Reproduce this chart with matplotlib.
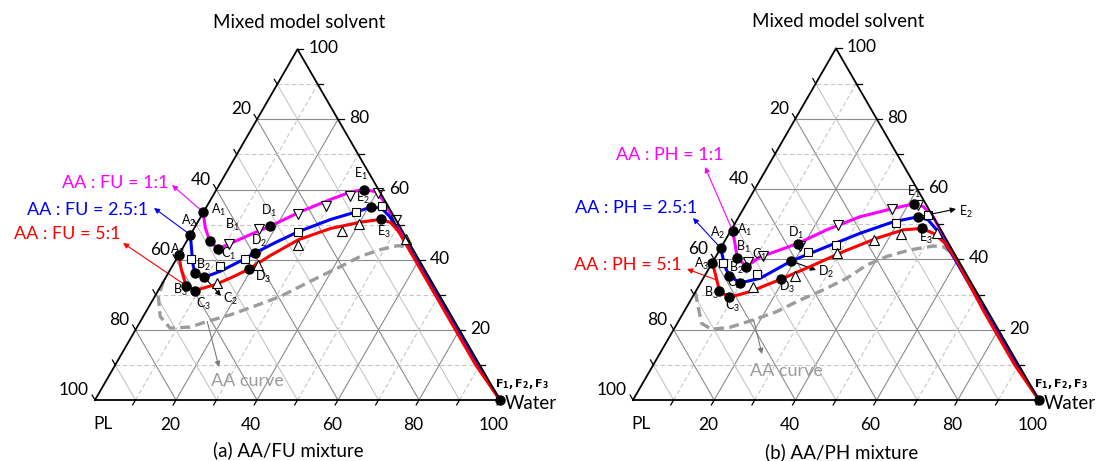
import numpy as np
import matplotlib.pyplot as plt

plt.rcParams['font.family'] = ['Lato', 'DejaVu Sans']
plt.rcParams['mathtext.default'] = 'regular'

# compositions: Water %, Mixed model solvent % (PL = the rest)
# ---------- (a) AA/FU mixture
fu_1_w = [0, 2.6, 5.7, 8.8, 11.1, 14.8, 18.4, 23.9, 29.6, 33.5, 36.3, 39.6, 42.6, 49.6, 64.6, 79.6, 94.6, 100]
fu_1_s = [53.5, 49.2, 45.3, 43.1, 44.6, 47.2, 49.5, 53.7, 57.2, 59.3, 60.0, 59.4, 57.0, 50.0, 35.0, 20.0, 5.0, 0]
fu_2_w = [0, 3.2, 5.1, 6.6, 9.5, 12.6, 16.8, 18.5, 22.1, 26.2, 32.5, 37.6, 40.7, 43.4, 46.6, 59.3, 74.3, 89.3, 100]
fu_2_s = [47.1, 41.5, 38.3, 36.2, 35.0, 36.7, 40.2, 41.9, 44.9, 48.0, 51.5, 53.6, 55.0, 54.7, 52.3, 40.0, 25.0, 10.0, 0]
fu_3_w = [0, 2.7, 6.2, 9.0, 13.3, 16.9, 19.4, 22.7, 27.4, 33.7, 40.2, 44.8, 47.7, 51.0, 59.0, 74.0, 89.0, 100]
fu_3_s = [41.4, 37.2, 32.6, 31.2, 32.9, 35.4, 37.4, 41.2, 45.7, 48.9, 50.7, 51.5, 50.6, 48.0, 40.0, 25.0, 10.0, 0]

fu_exp1_w = [11.0, 16.2, 23.6, 29.5, 33.8, 40.3, 48.6]
fu_exp1_s = [44.4, 48.8, 53.1, 55.3, 58.1, 59.1, 51.2]
fu_exp2_w = [3.6, 11.8, 16.9, 26.2, 37.6, 43.1]
fu_exp2_s = [40.3, 38.2, 40.2, 48.0, 53.5, 55.4]
fu_exp3_w = [13.4, 20.9, 28.0, 36.9, 40.2, 53.7]
fu_exp3_s = [33.4, 38.6, 44.3, 48.3, 50.2, 46.0]

# tie-line points A..E for each ratio, then F (pure water)
fu_pts_w = [[0, 5.7, 8.8, 18.4, 36.3], [0, 6.6, 9.5, 18.5, 40.7], [0, 6.2, 9.0, 19.4, 44.8]]
fu_pts_s = [[53.5, 45.3, 43.1, 49.5, 60.0], [47.1, 36.2, 35.0, 41.9, 55.0], [41.4, 32.6, 31.2, 37.4, 51.5]]

fu_aa_w = [0, 0.9, 4.2, 8.3, 13.1, 16.5, 21.3, 25.9, 31.0, 35.7, 39.2, 41.6, 45.1, 49.1, 52.7, 54.4, 56.1, 58.3]
fu_aa_s = [33.8, 29.5, 23.8, 20.5, 20.8, 22.4, 24.3, 26.7, 29.5, 33.4, 36.2, 38.0, 41.0, 42.9, 44.0, 43.8, 42.9, 41.0]

# ---------- (b) AA/PH mixture
ph_1_w = [0.5, 2.8, 5.5, 9.0, 10.9, 14.3, 18.3, 23.5, 29.8, 36.9, 41.3, 44.0, 47.9, 59.6, 74.6, 89.6, 100]
ph_1_s = [48.1, 44.6, 40.4, 37.9, 40.7, 42.4, 44.5, 48.4, 52.1, 54.5, 55.8, 55.0, 52.1, 40.0, 25.0, 10.0, 0]
ph_2_w = [0, 3.7, 6.0, 9.7, 14.0, 19.2, 25.9, 32.2, 38.8, 44.2, 47.1, 50.6, 59.3, 74.3, 89.3, 100]
ph_2_s = [43.2, 37.9, 35.4, 33.3, 34.6, 39.5, 43.6, 47.4, 50.7, 52.1, 51.2, 48.4, 40.0, 25.0, 10.0, 0]
ph_3_w = [0, 3.6, 5.8, 9.1, 13.4, 19.3, 24.6, 30.7, 37.0, 42.4, 46.7, 50.3, 54.6, 59.8, 74.0, 89.0, 100]
ph_3_s = [39.1, 34.1, 31.0, 29.2, 30.8, 34.4, 37.9, 42.2, 46.0, 48.4, 48.8, 47.4, 44.6, 39.8, 25.0, 10.0, 0]

ph_exp1_w = [8.7, 11.5, 19.2, 25.5, 36.6, 42.4]
ph_exp1_s = [39.3, 41.0, 43.8, 49.8, 54.2, 55.6]
ph_exp2_w = [2.7, 12.6, 21.9, 27.9, 39.7, 46.4]
ph_exp2_s = [38.9, 35.8, 42.2, 44.2, 50.4, 52.6]
ph_exp3_w = [13.6, 22.2, 29.3, 36.7, 42.4, 51.1]
ph_exp3_s = [32.1, 35.4, 41.7, 45.5, 47.1, 47.4]

ph_pts_w = [[0.5, 5.5, 9.0, 18.3, 41.3], [0, 6.0, 9.7, 19.2, 44.2], [0, 5.8, 9.1, 19.3, 46.7]]
ph_pts_s = [[48.1, 40.4, 37.9, 44.5, 55.8], [43.2, 35.4, 33.3, 39.5, 52.1], [39.1, 31.0, 29.2, 34.4, 48.8]]

ph_aa_w = [0, 2.8, 6.0, 9.3, 13.6, 18.3, 22.8, 26.9, 31.2, 35.3, 38.4, 42.1, 46.9, 52.1, 54.6, 57.0, 59.2]
ph_aa_s = [30.7, 26.5, 21.8, 20.1, 20.7, 22.8, 25.1, 28.4, 31.3, 34.6, 38.4, 40.8, 42.7, 43.8, 43.6, 42.2, 40.3]

point_names = ['A', 'B', 'C', 'D', 'E']
ratios = ['1:1', '2.5:1', '5:1']
colors = ['#ff00ff', '#0000ff', '#ff0000']
exp_markers = ['v', 's', '^']
axis_ticks = [20, 40, 60, 80, 100]

W, H = 1101, 461
SQ = np.sqrt(3) / 2


def xy(w, s):
    w = np.asarray(w, float)
    s = np.asarray(s, float)
    return w + s / 2, s * SQ


def fpx(x, y):
    # image pixel (top-left origin) -> figure pixels
    return x, H - y


def frame(ax):
    major, minor = '#8c8c8c', '#c6c6c6'
    for v in range(10, 100, 10):
        maj = v % 20 == 0
        c = major if maj else minor
        ls = '-' if maj else (0, (4, 2.5))
        ax.plot(*xy([0, 100 - v], [v, v]), color=c, lw=0.8, ls=ls, zorder=1)
        ax.plot(*xy([v, v], [0, 100 - v]), color=c, lw=0.8, ls=ls, zorder=1)
        ax.plot(*xy([100 - v, 0], [0, 100 - v]), color=c, lw=0.8, zorder=1)
    ax.plot(*xy([0, 100, 0, 0], [0, 0, 100, 0]), color='k', lw=1.3, zorder=6)
    L = 1.4
    for v in range(10, 101, 10):
        bx, by = xy(v, 0)
        ax.plot([bx, bx - 0.5 * L], [by, by - SQ * L], color='k', lw=0.9, zorder=6)
        lx, ly = xy(0, 100 - v)
        ax.plot([lx, lx - 0.5 * L], [ly, ly + SQ * L], color='k', lw=0.9, zorder=6)
        rx, ry = xy(100 - v, v)
        ax.plot([rx, rx + L], [ry, ry], color='k', lw=0.9, zorder=6)
    for v in axis_ticks:
        ax.annotate(str(v), xy(v, 0), xytext=(-6, -25), textcoords='offset pixels',
                    ha='center', va='center', fontsize=12.5)
        ax.annotate(str(v), xy(0, 100 - v), xytext=(-6, 10), textcoords='offset pixels',
                    ha='right', va='center', fontsize=12.5)
        ax.annotate(str(v), xy(100 - v, v), xytext=(11, 1), textcoords='offset pixels',
                    ha='left', va='center', fontsize=12.5)
    ax.annotate('Mixed model solvent', xy(0, 100), xytext=(2, 27), textcoords='offset pixels',
                ha='center', va='center', fontsize=13.5)
    ax.annotate('Water', xy(100, 0), xytext=(5, -3), textcoords='offset pixels',
                ha='left', va='center', fontsize=13.5)
    ax.annotate('PL', xy(0, 0), xytext=(8, -24), textcoords='offset pixels',
                ha='center', va='center', fontsize=12.5)


def panel(px0, px1, x0, y0, k, lines, exps, pts, aa, offsets, caption, cap_xy,
          names, name_xy, tips, tails, aa_lab, aa_tip):
    ax = fig.add_axes([px0 / W, 0, (px1 - px0) / W, 1])
    ax.set_xlim((px0 - x0) / k, (px1 - x0) / k)
    ax.set_ylim((y0 - H) / k, y0 / k)
    ax.axis('off')
    frame(ax)

    ax.plot(*xy(*aa), color='#9c9c9c', lw=2.4, ls=(0, (3.0, 1.6)), zorder=2)
    for i in range(3):
        ax.plot(*xy(*lines[i]), color=colors[i], lw=2.2, zorder=3 + i * 0.01,
                solid_joinstyle='round')
    for i in range(3):
        ax.plot(*xy(*exps[i]), ls='none', marker=exp_markers[i],
                ms=6.5 if exp_markers[i] != 's' else 5.5,
                mfc='white', mec='k', mew=0.8, zorder=4)
    for i in range(3):
        pw, ps = pts[0][i], pts[1][i]
        ax.plot(*xy(pw, ps), ls='none', marker='o', color='k', ms=6.5, zorder=5)
        for j, n in enumerate(point_names):
            dx, dy = offsets[i][j]
            if dx is None:
                continue
            ax.annotate(n + '$_{' + str(i + 1) + '}$', xy(pw[j], ps[j]),
                        xytext=(dx, dy - 4), textcoords='offset pixels',
                        ha='left', va='baseline', fontsize=9, zorder=7)
    ax.plot(*xy(100, 0), marker='o', color='k', ms=6.5, zorder=7)
    ax.annotate(r'$\mathbf{F_1,F_2,F_3}$', xy(100, 0), xytext=(-5, 13),
                textcoords='offset pixels', ha='left', va='baseline', fontsize=8)

    # ratio labels with arrows
    for i in range(3):
        tx, ty = fpx(*name_xy[i])
        fig.text(tx / W, ty / H, names[i], color=colors[i], fontsize=13,
                 ha='center', va='center')
        ax.annotate('', xy=fpx(*tips[i]), xycoords='figure pixels',
                    xytext=xy(*tails[i]), textcoords='data',
                    arrowprops=dict(arrowstyle='-|>', color=colors[i], lw=0.8,
                                    shrinkA=0, shrinkB=0, mutation_scale=8))
    # AA curve label
    lx, ly = fpx(*aa_lab)
    fig.text(lx / W, ly / H, 'AA curve', color='#9c9c9c', fontsize=13,
             ha='center', va='center')
    ax.annotate('', xy=fpx(*aa_tip), xycoords='figure pixels',
                xytext=xy(aa[0][5], aa[1][5]), textcoords='data',
                arrowprops=dict(arrowstyle='-|>', color='#7a7a7a', lw=0.8,
                                shrinkA=0, shrinkB=0, mutation_scale=8))
    cx, cy = fpx(*cap_xy)
    fig.text(cx / W, cy / H, caption, fontsize=13.5, ha='center', va='center')
    return ax


fig = plt.figure(figsize=(W / 100, H / 100), dpi=100)

# label offsets in pixels (dx to left edge, dy to letter centre)
fu_offsets = [[(8, 2), (15, 16), (3, -5), (-9, 15), (-10, 16)],
              [(-9, 14), (1, 8), (None, None), (-4, 12), (-15, 9)],
              [(-9, 5), (-13, -4), (1, -13), (6, -8), (-4, -13)]]
ax1 = panel(0, 550, 95, 400, 4.05,
            [(fu_1_w, fu_1_s), (fu_2_w, fu_2_s), (fu_3_w, fu_3_s)],
            [(fu_exp1_w, fu_exp1_s), (fu_exp2_w, fu_exp2_s), (fu_exp3_w, fu_exp3_s)],
            (fu_pts_w, fu_pts_s), (fu_aa_w, fu_aa_s), fu_offsets,
            '(a) AA/FU mixture', (288, 450),
            ['AA : FU = ' + r for r in ratios],
            [(115, 183), (88, 210), (67, 234)],
            [(172, 185), (154, 208), (123, 243)],
            [(fu_pts_w[0][0], fu_pts_s[0][0]), (fu_pts_w[1][0], fu_pts_s[1][0]),
             (fu_pts_w[2][1], fu_pts_s[2][1])],
            (247, 381), (219, 367))
# C2 label with arrow
ax1.annotate('', xy=fpx(221, 296), xycoords='figure pixels',
             xytext=xy(fu_pts_w[1][2], fu_pts_s[1][2]), textcoords='data',
             arrowprops=dict(arrowstyle='-|>', color='k', lw=0.8, shrinkA=0, shrinkB=0,
                             mutation_scale=8))
fig.text(223 / W, (H - 303) / H, 'C$_2$', fontsize=9, ha='left', va='baseline')

ph_offsets = [[(4, 1), (-1, 11), (6, 12), (-10, 11), (-7, 12)],
              [(-11, 15), (0, 8), (-13, 0), (None, None), (None, None)],
              [(-18, -1), (-15, -2), (-4, -9), (-2, -8), (-3, -9)]]
ax2 = panel(550, 1101, 633, 400, 4.06,
            [(ph_1_w, ph_1_s), (ph_2_w, ph_2_s), (ph_3_w, ph_3_s)],
            [(ph_exp1_w, ph_exp1_s), (ph_exp2_w, ph_exp2_s), (ph_exp3_w, ph_exp3_s)],
            (ph_pts_w, ph_pts_s), (ph_aa_w, ph_aa_s), ph_offsets,
            '(b) AA/PH mixture', (842, 452),
            ['AA : PH = ' + r for r in ratios],
            [(670, 155), (636, 208), (628, 265)],
            [(705, 167), (693, 218), (687, 269)],
            [(ph_pts_w[0][0], ph_pts_s[0][0]), (ph_pts_w[1][0], ph_pts_s[1][0]),
             (ph_3_w[1], ph_3_s[1])],
            (786, 371), (762, 354))
for j, (tip, lab) in enumerate([((816, 270), (818, 276)), ((956, 209), (959, 216))]):
    idx = 3 + j
    ax2.annotate('', xy=fpx(*tip), xycoords='figure pixels',
                 xytext=xy(ph_pts_w[1][idx], ph_pts_s[1][idx]), textcoords='data',
                 arrowprops=dict(arrowstyle='-|>', color='k', lw=0.8, shrinkA=0, shrinkB=0,
                                 mutation_scale=8))
    fig.text(lab[0] / W, (H - lab[1]) / H, point_names[idx] + '$_2$', fontsize=9,
             ha='left', va='baseline')

fig.savefig('out.png', dpi=100)
